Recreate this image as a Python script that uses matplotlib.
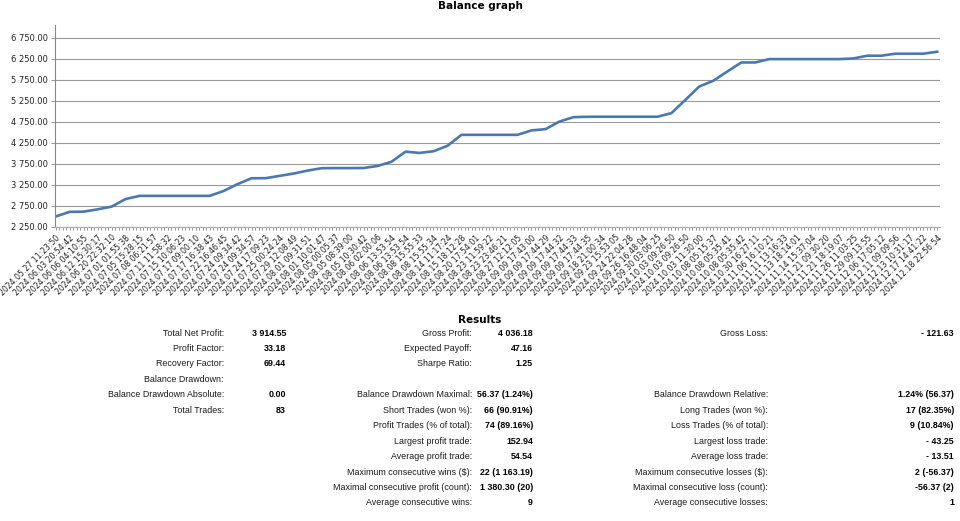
import matplotlib.pyplot as plt
from matplotlib.ticker import MultipleLocator, FuncFormatter
import numpy as np

# Balance curve (one value per labelled deal time)
dates = [
    "2024.05.27 11:23:50", "2024.06.03 20:54:42", "2024.06.06 04:10:55", "2024.06.12 15:30:17",
    "2024.06.20 22:32:10", "2024.07.01 01:55:38", "2024.07.05 15:28:15", "2024.07.08 06:21:57",
    "2024.07.11 11:58:32", "2024.07.15 10:06:23", "2024.07.17 09:00:10", "2024.07.17 16:38:43",
    "2024.07.22 16:46:45", "2024.07.24 09:34:42", "2024.07.24 09:34:57", "2024.07.24 17:09:23",
    "2024.07.25 00:24:24", "2024.07.29 12:08:49", "2024.08.01 09:31:51", "2024.08.01 10:01:47",
    "2024.08.05 00:05:37", "2024.08.05 08:39:00", "2024.08.05 10:30:42", "2024.08.06 02:00:06",
    "2024.08.06 13:53:54", "2024.08.06 13:53:54", "2024.08.08 15:55:33", "2024.08.08 15:55:34",
    "2024.08.14 11:17:24", "2024.08.15 18:12:28", "2024.08.20 17:54:01", "2024.08.23 11:59:22",
    "2024.08.23 23:46:21", "2024.08.27 12:12:05", "2024.09.09 17:43:00", "2024.09.09 17:44:29",
    "2024.09.09 17:44:32", "2024.09.09 17:44:33", "2024.09.09 17:44:35", "2024.09.18 21:00:34",
    "2024.09.23 15:53:05", "2024.09.24 22:04:28", "2024.09.26 16:48:04", "2024.09.30 03:06:25",
    "2024.10.03 09:26:50", "2024.10.03 09:26:50", "2024.10.03 11:30:00", "2024.10.08 05:15:37",
    "2024.10.08 05:35:41", "2024.10.08 05:35:42", "2024.10.30 16:27:11", "2024.11.06 16:10:21",
    "2024.11.11 13:16:33", "2024.11.13 18:14:01", "2024.11.14 15:37:04", "2024.11.21 09:30:20",
    "2024.11.21 18:19:07", "2024.11.26 11:03:25", "2024.11.29 09:13:55", "2024.12.06 17:05:12",
    "2024.12.11 09:09:56", "2024.12.13 10:31:17", "2024.12.17 14:41:22", "2024.12.18 22:56:54",
]
balance = [
    2500, 2610, 2615, 2670, 2735, 2915, 2990, 2990,
    2990, 2990, 2990, 2990, 3105, 3270, 3408, 3410,
    3465, 3520, 3590, 3647, 3650, 3650, 3652, 3700,
    3800, 4040, 4010, 4050, 4180, 4440, 4440, 4440,
    4440, 4440, 4545, 4575, 4755, 4860, 4870, 4870,
    4870, 4870, 4870, 4870, 4955, 5270, 5590, 5725,
    5945, 6160, 6160, 6240, 6240, 6240, 6240, 6240,
    6240, 6255, 6320, 6320, 6368, 6368, 6368, 6414.55,
]

# Results table: three columns of (label, value)
col1_labels = ["Total Net Profit:", "Profit Factor:", "Recovery Factor:", "Balance Drawdown:",
               "Balance Drawdown Absolute:", "Total Trades:"]
col1_values = ["3 914.55", "33.18", "69.44", "", "0.00", "83"]
col2_labels = ["Gross Profit:", "Expected Payoff:", "Sharpe Ratio:", "", "Balance Drawdown Maximal:",
               "Short Trades (won %):", "Profit Trades (% of total):", "Largest profit trade:",
               "Average profit trade:", "Maximum consecutive wins ($):",
               "Maximal consecutive profit (count):", "Average consecutive wins:"]
col2_values = ["4 036.18", "47.16", "1.25", "", "56.37 (1.24%)", "66 (90.91%)", "74 (89.16%)",
               "152.94", "54.54", "22 (1 163.19)", "1 380.30 (20)", "9"]
col3_labels = ["Gross Loss:", "", "", "", "Balance Drawdown Relative:", "Long Trades (won %):",
               "Loss Trades (% of total):", "Largest loss trade:", "Average loss trade:",
               "Maximum consecutive losses ($):", "Maximal consecutive loss (count):",
               "Average consecutive losses:"]
col3_values = ["- 121.63", "", "", "", "1.24% (56.37)", "17 (82.35%)", "9 (10.84%)", "- 43.25",
               "- 13.51", "2 (-56.37)", "-56.37 (2)", "1"]

W, H = 960, 521
fig = plt.figure(figsize=(W / 100, H / 100), dpi=100)
fig.patch.set_facecolor("white")

def fx(px):
    return px / W

def fy(py):
    return 1 - py / H

# Chart
ax = fig.add_axes([fx(55), fy(227), fx(940) - fx(55), fy(25) - fy(227)])
x = np.arange(len(balance))
ax.plot(x, balance, color="#4a78b0", linewidth=1.9, solid_joinstyle="round")

ax.set_ylim(2250, 7050)
ax.set_xlim(-0.05, len(balance) - 1 + 0.2)
ax.set_yticks(np.arange(2250, 7000, 500))
ax.yaxis.set_major_formatter(FuncFormatter(lambda v, p: f"{v:,.2f}".replace(",", " ")))
ax.grid(axis="y", color="#9a9a9a", linewidth=0.8)
ax.set_axisbelow(True)

ax.set_xticks(x)
ax.set_xticklabels(dates, rotation=45, ha="right", va="top", rotation_mode="anchor",
                   fontsize=5.6, family="DejaVu Sans", color="#222222")
ax.xaxis.set_minor_locator(MultipleLocator(0.25))
ax.tick_params(axis="x", which="both", length=2.5, width=0.6, color="#888888", pad=2)
ax.tick_params(axis="y", length=3, width=0.6, color="#888888", labelsize=6, pad=2,
               labelcolor="#222222")
for lab in ax.get_yticklabels():
    lab.set_family("DejaVu Sans")

for side in ["top", "right"]:
    ax.spines[side].set_visible(False)
ax.spines["left"].set_color("#888888")
ax.spines["bottom"].set_color("#aaaaaa")

fig.text(0.5, fy(6), "Balance graph", ha="center", va="center", fontsize=7.5,
         fontweight="bold", family="DejaVu Sans")

# Results block
fig.text(0.5, fy(320), "Results", ha="center", va="center", fontsize=7.5,
         fontweight="bold", family="DejaVu Sans")

row_y = [333 + 15.45 * i for i in range(12)]
cols = [(col1_labels, col1_values, 224, 286),
        (col2_labels, col2_values, 472, 533),
        (col3_labels, col3_values, 768, 954)]
for labels, values, lx, vx in cols:
    for i in range(len(labels)):
        if labels[i]:
            fig.text(fx(lx), fy(row_y[i]), labels[i], ha="right", va="center",
                     fontsize=6.4, family="Liberation Sans", color="#1a1a1a")
        if values[i]:
            fig.text(fx(vx), fy(row_y[i]), values[i], ha="right", va="center",
                     fontsize=6.4, family="Liberation Sans", fontweight="bold", color="#000000")

fig.savefig("out.png", dpi=100)
